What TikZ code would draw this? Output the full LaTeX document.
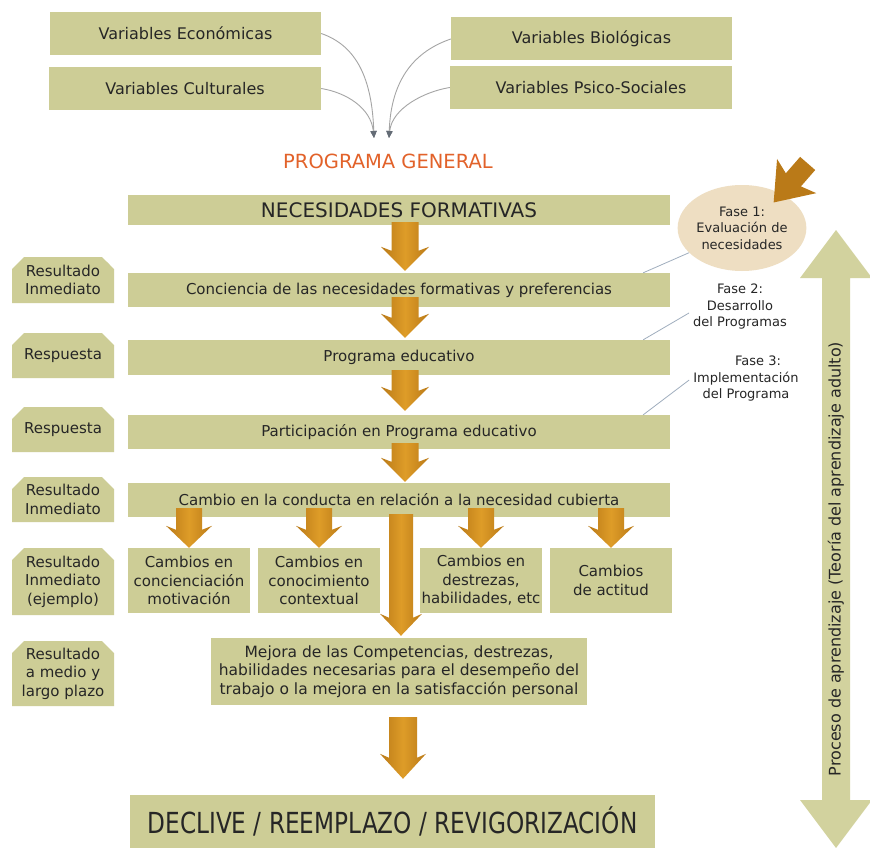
\documentclass[tikz,border=0pt]{standalone}
\usepackage{fontspec}
\setmainfont{DejaVu Sans}
\newfontfamily\condsf[FakeStretch=0.8]{DejaVu Sans}
\usetikzlibrary{shapes.misc,shapes.geometric,arrows.meta,calc}

\definecolor{boxolive}{RGB}{205,205,150}
\definecolor{arrowdark}{RGB}{186,122,24}
\definecolor{arrowlight}{RGB}{222,156,40}
\definecolor{sideolive}{RGB}{210,210,158}
\definecolor{phasebeige}{RGB}{238,222,194}
\definecolor{titleorange}{RGB}{226,98,42}
\definecolor{ink}{RGB}{38,38,38}
\definecolor{leader}{RGB}{160,174,190}
\definecolor{curvegray}{RGB}{165,165,165}
\definecolor{tipgray}{RGB}{100,108,118}

% block arrow with swept-back barbs:
% #1 style, #2 tail, #3 tip, #4 stem half width, #5 barb half width,
% #6 head length (tip to stem), #7 distance from tip to barbs
\newcommand{\blockarrow}[7][arrowbody]{%
  \coordinate (ba-t) at (#2);
  \coordinate (ba-p) at (#3);
  \coordinate (ba-h) at ($(ba-p)!#6!(ba-t)$);
  \coordinate (ba-b) at ($(ba-p)!#7!(ba-t)$);
  \path[#1] ($(ba-t)!#4!90:(ba-p)$) -- ($(ba-h)!#4!90:(ba-p)$)
    -- ($(ba-b)!#5!90:(ba-p)$) -- (ba-p) -- ($(ba-b)!#5!-90:(ba-p)$)
    -- ($(ba-h)!#4!-90:(ba-p)$) -- ($(ba-t)!#4!-90:(ba-p)$) -- cycle;
}

\tikzset{
  basebox/.style={fill=boxolive, text=ink, align=center, inner sep=0pt},
  mainbox/.style={basebox, minimum width=542pt, font=\fontsize{15}{18.5}\selectfont},
  subbox/.style={basebox, minimum width=122pt, minimum height=65pt, font=\fontsize{15}{18.5}\selectfont},
  varbox/.style={basebox, minimum height=43pt, font=\fontsize{16}{19}\selectfont},
  sidelabel/.style={basebox, chamfered rectangle, chamfered rectangle corners={north west,north east},
    chamfered rectangle xsep=6pt, chamfered rectangle ysep=6pt,
    minimum width=102pt, font=\fontsize{15}{18.5}\selectfont},
  phasetext/.style={text=ink, align=center, inner sep=1pt, font=\fontsize{13}{16.5}\selectfont},
  leaderline/.style={draw=leader, line width=0.8pt},
  inflow/.style={draw=curvegray, line width=0.9pt, -{Triangle[length=7pt,width=6pt,color=tipgray]}},
  arrowbody/.style={left color=arrowdark, right color=arrowdark, middle color=arrowlight},
  arrowflat/.style={fill=arrowdark},
}

\begin{document}
\begin{tikzpicture}[x=1pt,y=-1pt]
\fill[white] (0,0) rectangle (870,848);
\useasboundingbox (0,0) rectangle (870,848);

% input variables
\node[varbox, minimum width=271pt] (ve) at (185.5,33.5) {Variables Económicas};
\node[varbox, minimum width=272pt] (vc) at (185,88.5) {Variables Culturales};
\node[varbox, minimum width=281pt] (vb) at (591.5,39) {Variables Biológicas};
\node[varbox, minimum width=282pt] (vp) at (591,87.5) {Variables Psico-Sociales};

\node[text=titleorange, inner sep=1pt, font=\fontsize{19.5}{22}\selectfont] (pg) at (388,161) {PROGRAMA GENERAL};

\coordinate (inL) at (374,138);
\coordinate (inR) at (389,138);
\draw[inflow] (ve.east) .. controls +(35,12) and +(-2,-60) .. (inL);
\draw[inflow] (vc.east) .. controls +(25,4) and +(-3,-30) .. (inL);
\draw[inflow] (vb.west) .. controls +(-35,12) and +(2,-60) .. (inR);
\draw[inflow] (vp.west) .. controls +(-25,4) and +(3,-30) .. (inR);

% main chain
\node[mainbox, minimum height=30pt, font=\fontsize{20}{22}\selectfont] (nec) at (399,210) {NECESIDADES FORMATIVAS};
\node[mainbox, minimum height=34pt] (conc) at (399,290) {Conciencia de las necesidades formativas y preferencias};
\node[mainbox, minimum height=35pt] (prog) at (399,357.5) {Programa educativo};
\node[mainbox, minimum height=34pt] (part) at (399,432) {Participación en Programa educativo};
\node[mainbox, minimum height=34pt] (camb) at (399,500) {Cambio en la conducta en relación a la necesidad cubierta};

\node[subbox] (c1) at (189,580.5) {Cambios en\\concienciación\\motivación};
\node[subbox] (c2) at (319,580.5) {Cambios en\\conocimiento\\contextual};
\node[subbox] (c3) at (481,580.5) {Cambios en\\destrezas,\\habilidades, etc};
\node[subbox] (c4) at (611,580.5) {Cambios\\de actitud};

\node[subbox, minimum width=376pt, minimum height=67pt, font=\fontsize{15.5}{18.5}\selectfont] (mej) at (399,671.5)
  {Mejora de las Competencias, destrezas,\\habilidades necesarias para el desempeño del\\trabajo o la mejora en la satisfacción personal};

\node[basebox, minimum width=525pt, minimum height=53pt, font=\condsf\fontsize{29}{32}\selectfont] (dec) at (392.5,821.5)
  {DECLIVE / REEMPLAZO / REVIGORIZACIÓN};

% row labels
\node[sidelabel, minimum height=46pt] (l1) at (63,280) {Resultado\\Inmediato};
\node[sidelabel, minimum height=45pt] (l2) at (63,355.5) {Respuesta};
\node[sidelabel, minimum height=45pt] (l3) at (63,429.5) {Respuesta};
\node[sidelabel, minimum height=45pt] (l4) at (63,499.5) {Resultado\\Inmediato};
\node[sidelabel, minimum height=67pt] (l5) at (63,581.5) {Resultado\\Inmediato\\(ejemplo)};
\node[sidelabel, minimum height=65pt] (l6) at (63,673.5) {Resultado\\a medio y\\largo plazo};

% flow arrows
\blockarrow{$(nec.south)+(6,-3)$}{$(conc.north)+(6,-2)$}{13.5pt}{24pt}{20pt}{24pt}
\blockarrow{$(conc.south)+(6,-10)$}{$(prog.north)+(6,-2)$}{13.5pt}{24pt}{20pt}{24pt}
\blockarrow{$(prog.south)+(6,-5)$}{$(part.north)+(6,-4)$}{13.5pt}{24pt}{20pt}{24pt}
\blockarrow{$(part.south)+(6,-6)$}{$(camb.north)+(6,-1)$}{13.5pt}{24pt}{20pt}{24pt}
\blockarrow{$(camb.south -| c1.north)+(0,-9)$}{c1.north}{13pt}{23pt}{18pt}{22pt}
\blockarrow{$(camb.south -| c2.north)+(0,-9)$}{c2.north}{13pt}{23pt}{18pt}{22pt}
\blockarrow{$(camb.south -| c3.north)+(0,-9)$}{c3.north}{13pt}{23pt}{18pt}{22pt}
\blockarrow{$(camb.south -| c4.north)+(0,-9)$}{c4.north}{13pt}{23pt}{18pt}{22pt}
\blockarrow{$(camb.south)+(2,-3)$}{$(mej.north)+(2,-2)$}{12pt}{21pt}{18pt}{22pt}
\blockarrow{$(mej.south)+(4,12)$}{$(dec.north)+(10.5,-16)$}{14pt}{23pt}{21pt}{25pt}

% phases
\node[ellipse, fill=phasebeige, minimum width=112pt, minimum height=86pt, phasetext, inner sep=0pt] (ph1) at (742,228)
  {Fase 1:\\Evaluación de\\necesidades};
\blockarrow[arrowflat]{$(ph1.north east)+(20,-34)$}{$(ph1.north east)+(-14,5)$}{10pt}{26pt}{30pt}{35pt}
\node[phasetext] (ph2) at (740,307) {Fase 2:\\Desarrollo\\del Programas};
\node[phasetext] (ph3) at (746,379) {\hspace*{24pt}Fase 3:\\Implementación\\del Programa};

\draw[leaderline] (ph1.205) -- ($(conc.north east)+(-27,0)$);
\draw[leaderline] ($(ph2.west)+(-3,6)$) -- ($(prog.north east)+(-27,0)$);
\draw[leaderline] ($(ph3.west)+(-3,1)$) -- ($(part.north east)+(-27,0)$);

% learning process double arrow
\fill[sideolive] (836,230) -- (872,278) -- (850,278) -- (850,800) -- (872,800) -- (836,848)
  -- (800,800) -- (822,800) -- (822,278) -- (800,278) -- cycle;
\node[rotate=90, text=ink, inner sep=0pt, font=\fontsize{16}{19}\selectfont] (proc) at (836,559)
  {Proceso de aprendizaje (Teoría del aprendizaje adulto)};
\end{tikzpicture}
\end{document}
